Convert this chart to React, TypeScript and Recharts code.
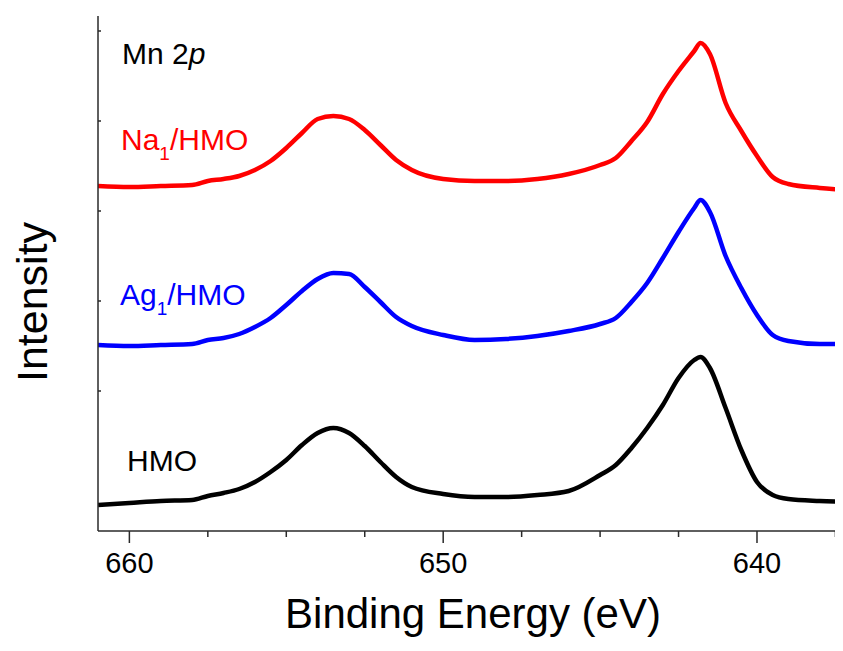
import React from 'react'
import { LineChart, Line, XAxis, YAxis } from 'recharts'

// binding energy grid (eV), shared by the three spectra
const energy = [
  661, 660, 659, 658, 657.5, 657, 656.5, 656, 655.5, 655, 654.5, 654, 653.5, 653, 652.5, 652, 651.5, 651,
  650, 649, 648, 647, 646, 645, 644.5, 644, 643.5, 643, 642.5, 642, 641.8, 641.5, 641, 640.5, 640, 639.5,
  639, 638, 637.1,
]

// intensities (a.u., offset stacked)
const hmo = [
  26, 28, 30, 31, 35, 38, 42, 49, 59, 71, 86, 98, 103, 98, 85, 69, 54, 44, 37, 34, 34, 36, 40, 56, 66, 83,
  103, 126, 153, 171, 174, 163, 123, 81, 49, 36, 32, 30, 29,
]
const ag1 = [
  186, 185, 186, 187, 191, 193, 197, 204, 213, 226, 240, 252, 258, 257, 244, 229, 214, 205, 196, 191, 192,
  195, 200, 207, 213, 229, 248, 273, 299, 323, 331, 319, 275, 243, 216, 196, 190, 187, 187,
]
const na1 = [
  345, 344, 345, 346, 350, 352, 355, 361, 370, 383, 398, 412, 415, 412, 401, 386, 371, 361, 352, 350, 350,
  352, 357, 366, 373, 390, 409, 437, 460, 480, 488, 477, 428, 400, 375, 354, 347, 343, 341,
]

const xTicks = [660, 657.5, 655, 652.5, 650, 647.5, 645, 642.5, 640, 637.5]
const xMajor = [660, 650, 640]
const yTicks = [140, 230, 320, 410, 500]

const data = energy.map((e, i) => ({ energy: e, hmo: hmo[i], ag1: ag1[i], na1: na1[i] }))

const FONT = '"Liberation Sans", Arial, Helvetica, sans-serif'
const AXIS = '#2a2a2a'

const BottomTick = (props: any) => {
  const { x, y, payload } = props
  const major = xMajor.includes(payload.value)
  return (
    <g>
      <line x1={x} x2={x} y1={y} y2={y + (major ? 12 : 6)} stroke={AXIS} strokeWidth={1.5} />
      {major && (
        <text x={x} y={y + 42} textAnchor="middle" fontSize={29} fontFamily={FONT} fill="#000">
          {payload.value}
        </text>
      )}
    </g>
  )
}

const TopTick = (props: any) => {
  const { x, y } = props
  return <line x1={x} x2={x} y1={y} y2={y + 3} stroke={AXIS} strokeWidth={1.5} />
}

const LeftTick = (props: any) => {
  const { x, y } = props
  return <line x1={x} x2={x + 3} y1={y} y2={y} stroke={AXIS} strokeWidth={1.5} />
}

const App: React.FC = () => (
  <div style={{ position: 'relative', width: 835, height: 643, overflow: 'hidden' }}>
    <LineChart width={840} height={640} data={data} margin={{ top: 8, right: 0, bottom: 0, left: 0 }}>
      <XAxis
        type="number"
        dataKey="energy"
        domain={[637.1, 661]}
        reversed
        allowDataOverflow
        ticks={xTicks}
        interval={0}
        height={117}
        tickSize={0}
        tickMargin={0}
        tickLine={false}
        axisLine={{ stroke: AXIS, strokeWidth: 1.5 }}
        tick={<BottomTick />}
      />
      <XAxis
        xAxisId="top"
        orientation="top"
        type="number"
        dataKey="energy"
        domain={[637.1, 661]}
        reversed
        allowDataOverflow
        ticks={xTicks}
        interval={0}
        height={0}
        tickSize={0}
        tickMargin={0}
        tickLine={false}
        axisLine={{ stroke: AXIS, strokeWidth: 1.5 }}
        tick={<TopTick />}
      />
      <YAxis
        type="number"
        domain={[0, 515]}
        allowDataOverflow
        ticks={yTicks}
        interval={0}
        width={90}
        tickSize={0}
        tickMargin={0}
        tickLine={false}
        axisLine={{ stroke: AXIS, strokeWidth: 1.5 }}
        tick={<LeftTick />}
      />
      <Line dataKey="hmo" type="monotone" stroke="#000000" strokeWidth={4.5} dot={false} isAnimationActive={false} />
      <Line dataKey="ag1" type="monotone" stroke="#0000ff" strokeWidth={4.5} dot={false} isAnimationActive={false} />
      <Line dataKey="na1" type="monotone" stroke="#ff0000" strokeWidth={4.5} dot={false} isAnimationActive={false} />
    </LineChart>
    <svg
      width={835}
      height={643}
      style={{ position: 'absolute', left: 0, top: 0, pointerEvents: 'none' }}
      fontFamily={FONT}
    >
      <text x={114} y={56} fontSize={30} fill="#000">
        Mn 2<tspan fontStyle="italic">p</tspan>
      </text>
      <text x={113} y={142} fontSize={30} fill="#ff0000">
        Na<tspan fontSize={19} dy={10}>1</tspan>
        <tspan dy={-10}>/HMO</tspan>
      </text>
      <text x={112} y={297} fontSize={30} fill="#0000ff">
        Ag<tspan fontSize={19} dy={10}>1</tspan>
        <tspan dy={-10}>/HMO</tspan>
      </text>
      <text x={119} y={463} fontSize={30} fill="#000">
        HMO
      </text>
      <text x={465} y={620} fontSize={42} textAnchor="middle" fill="#000">
        Binding Energy (eV)
      </text>
      <text x={39} y={294} fontSize={43} textAnchor="middle" fill="#000" transform="rotate(-90 39 294)">
        Intensity
      </text>
    </svg>
  </div>
)

export default App
